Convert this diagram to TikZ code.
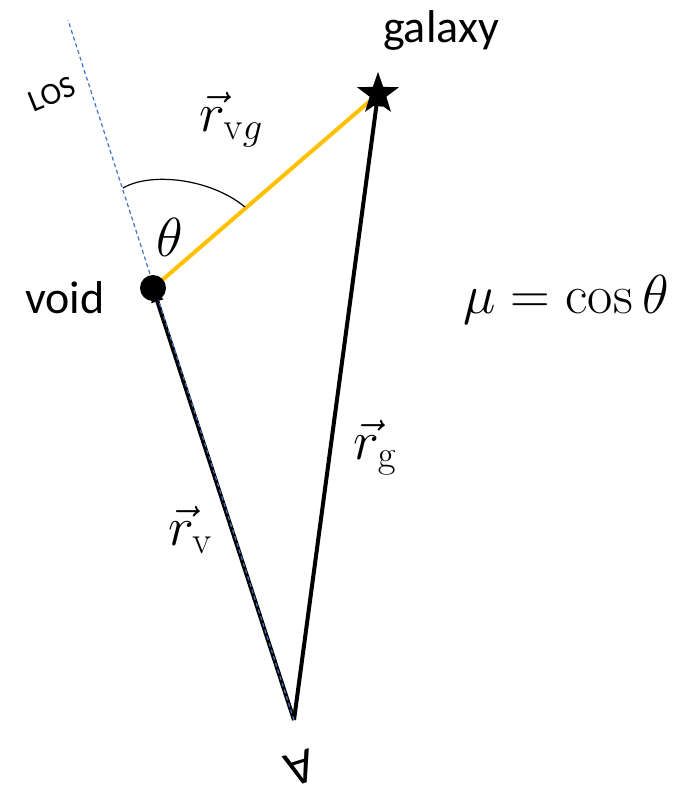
\RequirePackage{fix-cm}
\documentclass[tikz,border=0pt]{standalone}
\usepackage[no-math]{fontspec}
\newfontfamily\calibri{Carlito}
\usetikzlibrary{arrows.meta,shapes.geometric}
\definecolor{gold}{RGB}{255,192,0}
\definecolor{losblue}{RGB}{68,114,196}
\tikzset{
  vecline/.style={line width=4pt, -{Triangle[length=12pt,width=12pt]}},
  txt/.style={font=\calibri\fontsize{46}{50}\selectfont, inner sep=0pt},
  mathlbl/.style={font=\fontsize{55}{60}\selectfont, inner sep=0pt},
  losline/.style={draw=losblue, line width=1.2pt, dash pattern=on 4pt off 3pt},
}
\begin{document}
\begin{tikzpicture}[x=1pt,y=-1pt]
\useasboundingbox (0,0) rectangle (681,785);
\coordinate (obs) at (294,720);
\coordinate (lostop) at (68,20);
\coordinate (voidc) at (153,288);
\coordinate (galc) at (378,94);
% vectors
\draw[vecline, shorten >=2pt] (obs) -- (voidc);
\draw[vecline] (obs) -- (galc);
\draw[losline] (obs) -- (lostop);
\draw[gold, line width=4pt] (voidc) -- (galc);
% angle arc
\coordinate (arcA) at (123,188);
\coordinate (arcB) at (245,207);
\draw[line width=1.2pt] (arcA) .. controls (150,172) and (210,178) .. (arcB);
% markers
\node[circle, fill=black, minimum size=26pt, inner sep=0pt] (void) at (voidc) {};
\node[star, star points=5, star point ratio=2.5, fill=black, minimum size=44pt, inner sep=0pt] (gal) at (galc) {};
% labels
\node[txt] (voidlbl) at (65,298) {void};
\node[txt] (gallbl) at (441,30) {galaxy};
\node[font=\calibri\fontsize{31}{34}\selectfont, inner sep=0pt, rotate=22] (loslbl) at (52,94) {LOS};
\node[font=\calibri\fontsize{50}{54}\selectfont, inner sep=0pt, rotate=197] (obslbl) at (300,768) {A};
\node[mathlbl] (theta) at (170,237) {$\theta$};
\node[mathlbl] (rvg) at (231,120) {$\vec{r}_{\mathrm{v}g}$};
\node[mathlbl] (rg) at (375,448) {$\vec{r}_{\mathrm{g}}$};
\node[mathlbl] (rv) at (190,530) {$\vec{r}_{\mathrm{v}}$};
\node[mathlbl] (mu) at (566,300) {$\mu=\cos\theta$};
\end{tikzpicture}
\end{document}
